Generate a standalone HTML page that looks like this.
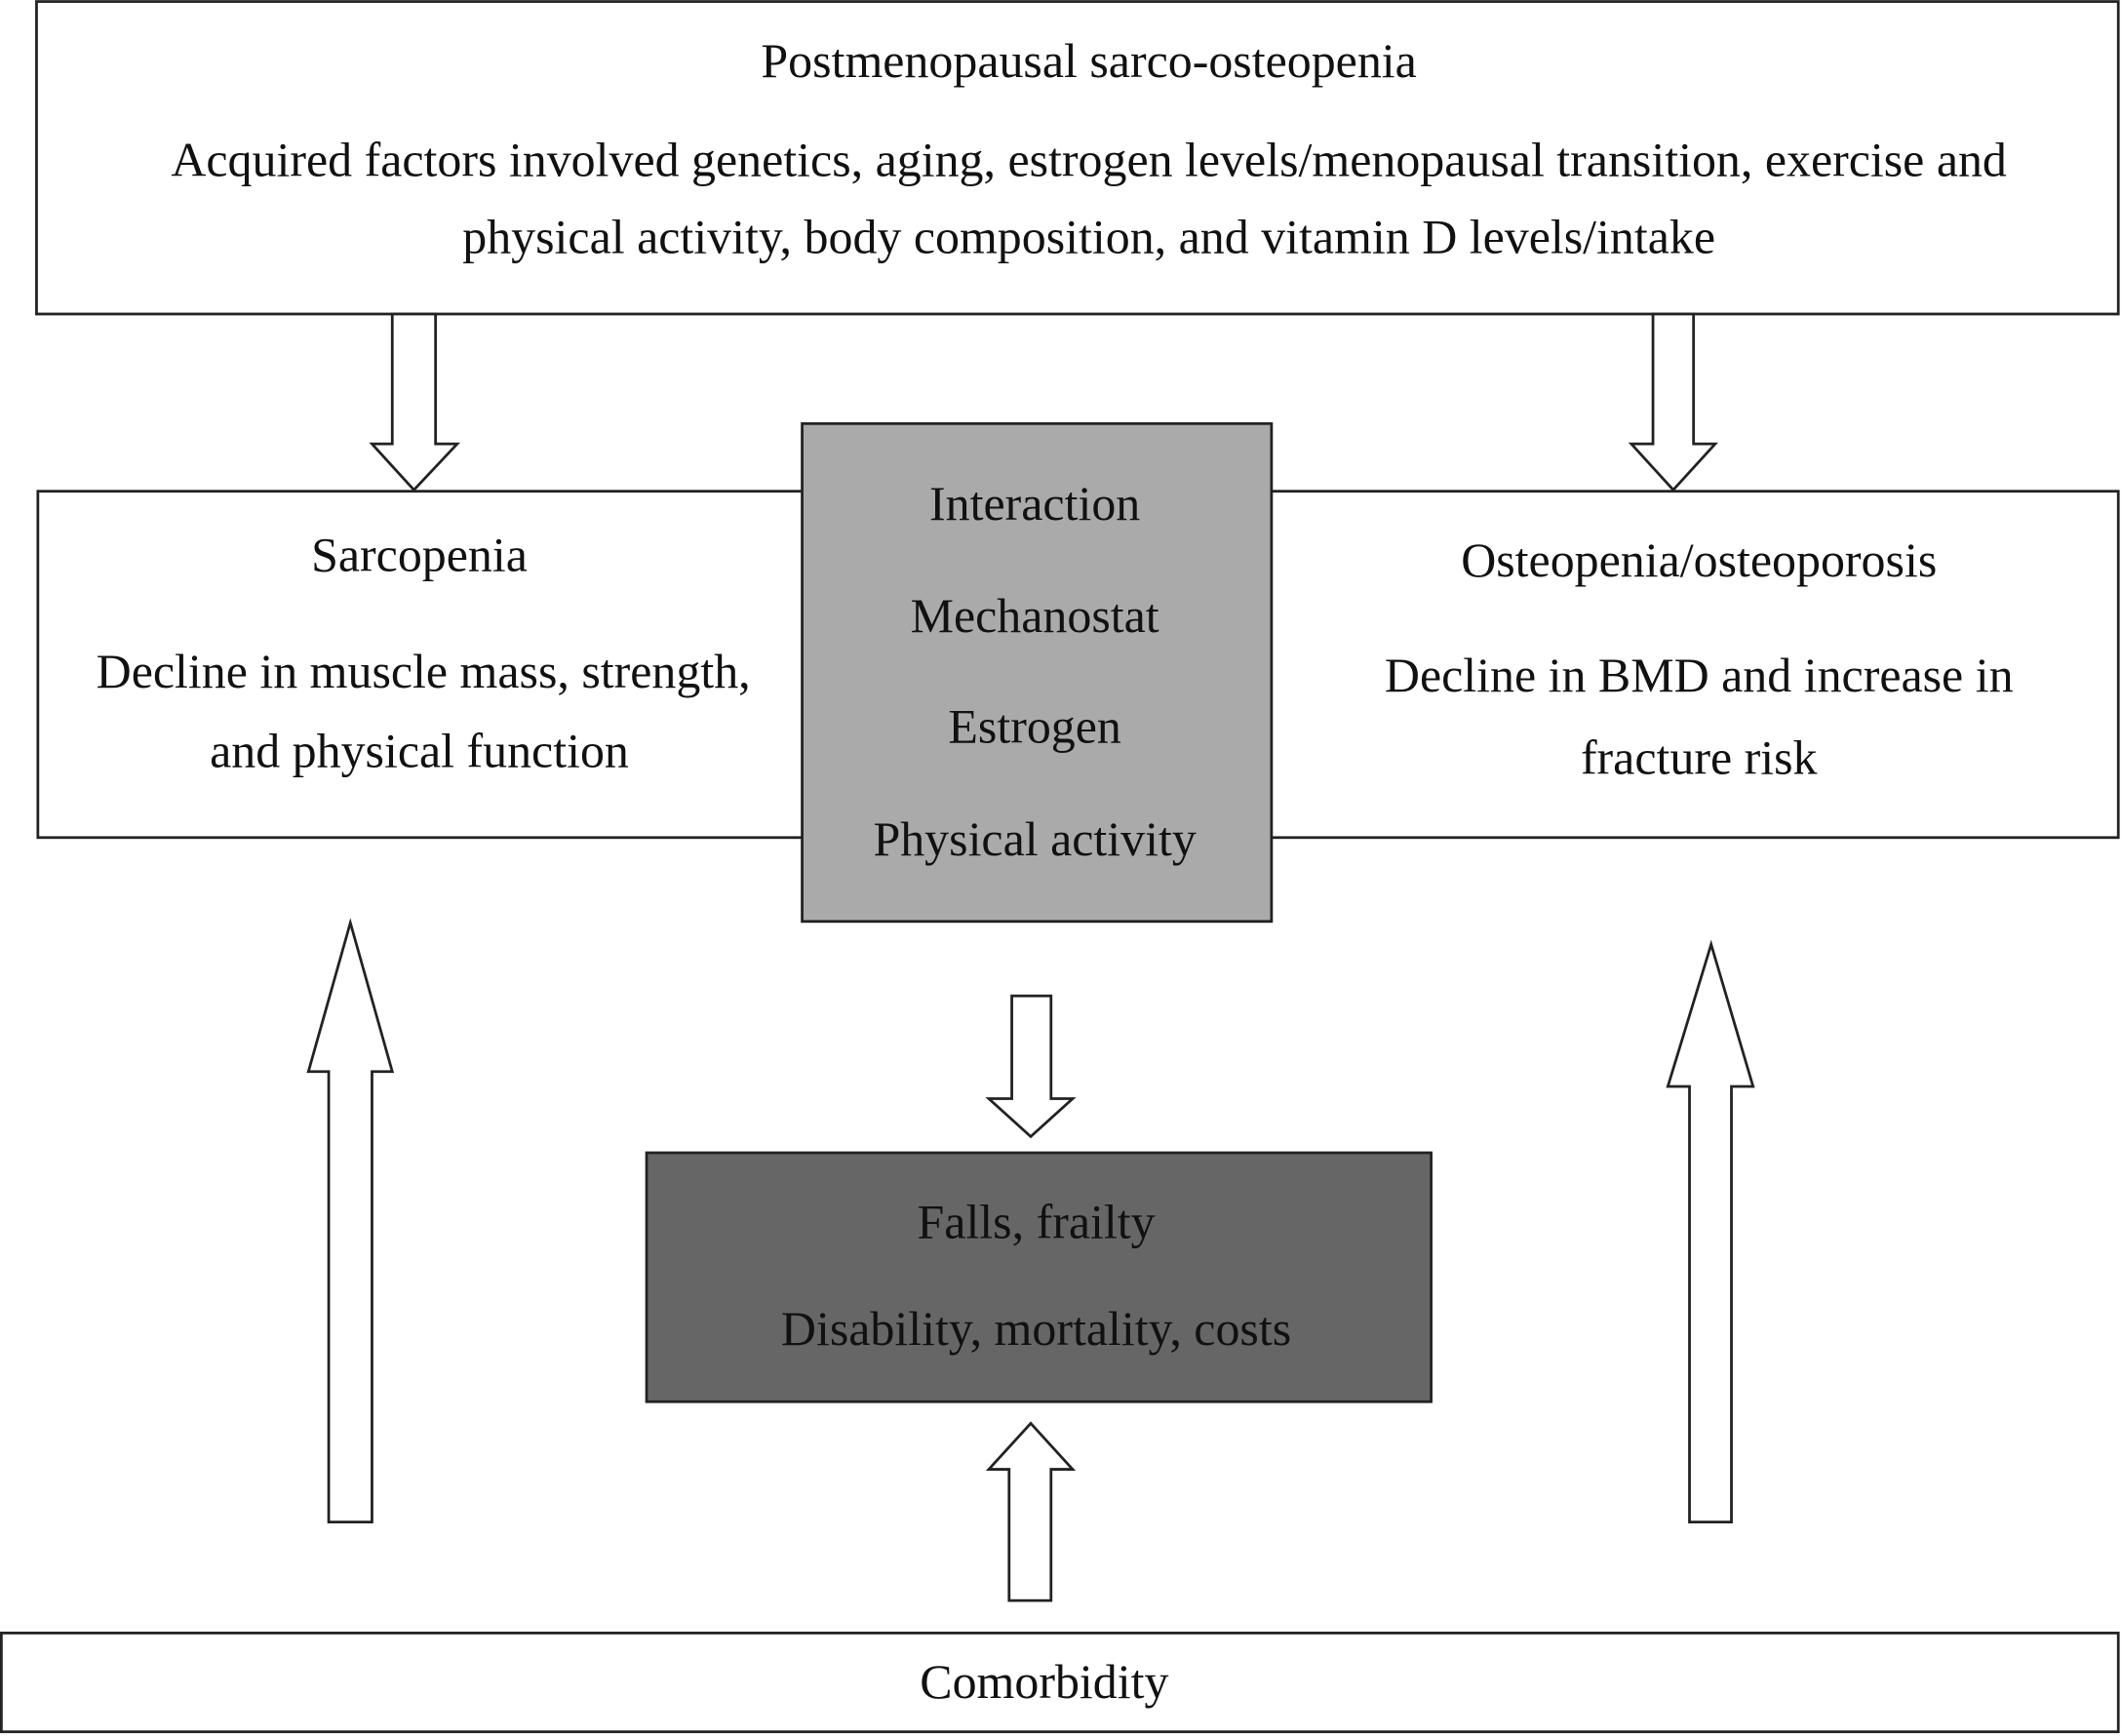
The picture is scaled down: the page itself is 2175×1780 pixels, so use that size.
<!DOCTYPE html>
<html><head><meta charset="utf-8"><style>
html,body{margin:0;padding:0;background:#fff}
svg{display:block}
text{font-family:"Liberation Serif",serif;font-size:36px;fill:#111;text-anchor:middle}
</style></head><body>
<svg width="2175" height="1780" viewBox="0 0 1568 1283" xmlns="http://www.w3.org/2000/svg">
<g stroke="#222" stroke-width="2" fill="#fff">
<rect x="27" y="1" width="1539" height="231"/>
<rect x="28" y="363" width="1538" height="256"/>
<rect x="593" y="313" width="347" height="368" fill="#aaaaaa"/>
<rect x="478" y="852" width="580" height="184" fill="#666666"/>
<rect x="1" y="1207" width="1565" height="73"/>
<polygon points="290,232 322,232 322,328 338,328 306,362 275,328 290,328"/>
<polygon points="1222,232 1252,232 1252,328 1268,328 1237,362 1206,328 1222,328"/>
<polygon points="748,736 777,736 777,812 793,812 762,840 731,812 748,812"/>
<polygon points="259,682 290,792 275,792 275,1125 243,1125 243,792 228,792"/>
<polygon points="1265,698 1296,803 1280,803 1280,1125 1249,1125 1249,803 1233,803"/>
<polygon points="762,1052 793,1086 777,1086 777,1183 746,1183 746,1086 731,1086"/>
</g>
<text x="805" y="57">Postmenopausal sarco-osteopenia</text>
<text x="805" y="130">Acquired factors involved genetics, aging, estrogen levels/menopausal transition, exercise and</text>
<text x="805" y="187">physical activity, body composition, and vitamin D levels/intake</text>
<text x="310" y="422">Sarcopenia</text>
<text x="313" y="508">Decline in muscle mass, strength,</text>
<text x="310" y="567">and physical function</text>
<text x="1256" y="426">Osteopenia/osteoporosis</text>
<text x="1256" y="511">Decline in BMD and increase in</text>
<text x="1256" y="572">fracture risk</text>
<text x="765" y="384">Interaction</text>
<text x="765" y="467">Mechanostat</text>
<text x="765" y="549">Estrogen</text>
<text x="765" y="632">Physical activity</text>
<text x="766" y="915">Falls, frailty</text>
<text x="766" y="994">Disability, mortality, costs</text>
<text x="772" y="1255">Comorbidity</text>
</svg>
</body></html>
